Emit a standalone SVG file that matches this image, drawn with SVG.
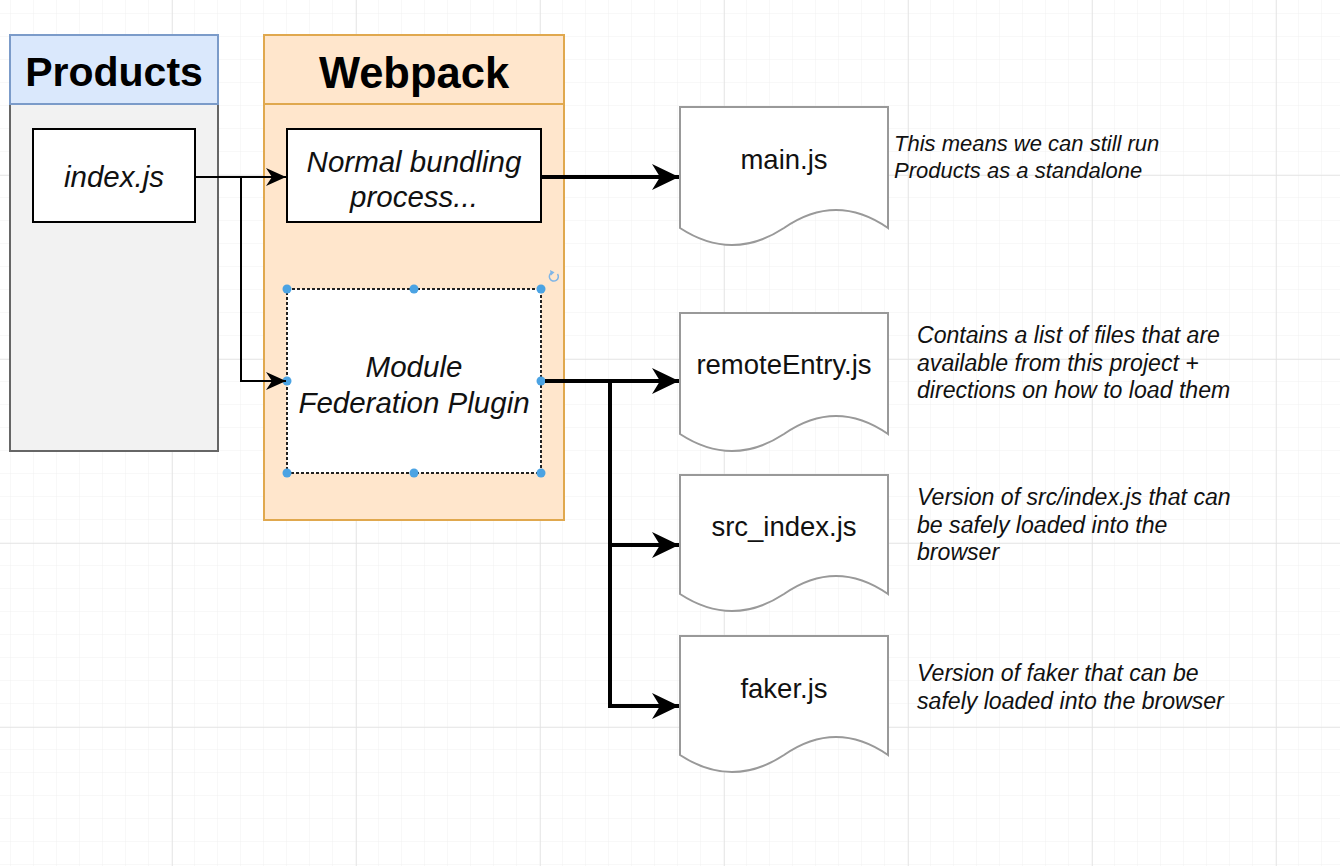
<svg xmlns="http://www.w3.org/2000/svg" width="1340" height="866" viewBox="0 0 1340 866">
<defs>
<pattern id="minor" x="-12" y="-9" width="23" height="23" patternUnits="userSpaceOnUse">
<path d="M23,0 V23 M0,23 H23" fill="none" stroke="#f0f0f0" stroke-width="1"/>
</pattern>
<pattern id="major" x="-12" y="-9" width="184" height="184" patternUnits="userSpaceOnUse">
<path d="M0,0 V184 M0,0 H184" fill="none" stroke="#e3e3e3" stroke-width="1.5"/>
</pattern>
<marker id="thin" markerUnits="userSpaceOnUse" viewBox="-21 -10 23 20" refX="0" refY="0" markerWidth="23" markerHeight="20" orient="auto">
<path d="M-20,-9 L0,0 L-20,9 L-14,0 Z" fill="#000"/>
</marker>
<marker id="thick" markerUnits="userSpaceOnUse" viewBox="-28 -14 30 28" refX="0" refY="0" markerWidth="30" markerHeight="28" orient="auto">
<path d="M-27,-13 L0,0 L-27,13 L-19,0 Z" fill="#000"/>
</marker>
<style>
.title{font-family:"Liberation Sans",Arial,sans-serif;font-weight:bold;font-size:41px;fill:#000;text-anchor:middle}
.it{font-family:"Liberation Sans",Arial,sans-serif;font-style:italic;font-size:29.5px;fill:#111;text-anchor:middle}
.doc{font-family:"Liberation Sans",Arial,sans-serif;font-size:27.5px;fill:#111;text-anchor:middle}
.note{font-family:"Liberation Sans",Arial,sans-serif;font-style:italic;font-size:23.1px;fill:#111}
.docshape{fill:#fff;stroke:#999;stroke-width:2}
.box{fill:#fff;stroke:#000;stroke-width:2}
.handle{fill:#4ba3e3}
.c2{fill:none;stroke:#000;stroke-width:2}
.c4{fill:none;stroke:#000;stroke-width:4}
</style>
</defs>
<rect width="1340" height="866" fill="#fff"/>
<rect width="1340" height="866" fill="url(#minor)"/>
<rect width="1340" height="866" fill="url(#major)"/>

<g id="products">
<rect x="10" y="35" width="208" height="416" fill="#f2f2f2" stroke="#666" stroke-width="2"/>
<rect x="10" y="35" width="208" height="69" fill="#dae8fc" stroke="#7b9bc9" stroke-width="2"/>
<text class="title" x="114" y="86">Products</text>
</g>

<g id="webpack">
<rect x="264" y="35" width="300" height="485" fill="#ffe6cc" stroke="#e0a84e" stroke-width="2"/>
<line x1="264" y1="104" x2="564" y2="104" stroke="#e0a84e" stroke-width="2"/>
<text class="title" x="414" y="88" style="font-size:43.5px">Webpack</text>
</g>

<g id="indexjs">
<rect class="box" x="33" y="129" width="162" height="93"/>
<text class="it" x="114" y="187">index.js</text>
</g>

<g id="normal-bundling">
<rect class="box" x="287" y="129" width="254" height="93"/>
<text class="it" x="414" y="172">Normal bundling</text>
<text class="it" x="414" y="207">process...</text>
</g>

<g id="module-federation">
<rect x="287" y="289" width="254" height="184" fill="#fff" stroke="#222" stroke-width="2" stroke-dasharray="3,2"/>
<text class="it" x="414" y="377">Module</text>
<text class="it" x="414" y="413">Federation Plugin</text>
<circle class="handle" cx="287" cy="289" r="4.5"/>
<circle class="handle" cx="414" cy="289" r="4.5"/>
<circle class="handle" cx="541" cy="289" r="4.5"/>
<circle class="handle" cx="287" cy="381" r="4.5"/>
<circle class="handle" cx="541" cy="381" r="4.5"/>
<circle class="handle" cx="287" cy="473" r="4.5"/>
<circle class="handle" cx="414" cy="473" r="4.5"/>
<circle class="handle" cx="541" cy="473" r="4.5"/>
<path d="M557.5,274 A4.5,4.5 0 1 1 552,272.5" fill="none" stroke="#7fb5e6" stroke-width="1.5"/>
<path d="M550,270 L554.5,272.3 L551,275.5 Z" fill="#7fb5e6"/>
</g>

<g id="mainjs">
<path class="docshape" d="M680,107 H888 V228 Q836,192 784,228 Q732,262 680,228 Z"/>
<text class="doc" x="784" y="169">main.js</text>
</g>
<g id="remoteentry">
<path class="docshape" d="M680,313 H888 V434 Q836,398 784,434 Q732,468 680,434 Z"/>
<text class="doc" x="784" y="374">remoteEntry.js</text>
</g>
<g id="srcindex">
<path class="docshape" d="M680,475 H888 V594 Q836,558 784,594 Q732,628 680,594 Z"/>
<text class="doc" x="784" y="536">src_index.js</text>
</g>
<g id="fakerjs">
<path class="docshape" d="M680,636 H888 V755 Q836,719 784,755 Q732,789 680,755 Z"/>
<text class="doc" x="784" y="698">faker.js</text>
</g>

<g id="notes">
<text class="note" x="894" y="151" style="font-size:22px">This means we can still run</text>
<text class="note" x="894" y="178" style="font-size:22px">Products as a standalone</text>
<text class="note" x="917" y="343">Contains a list of files that are</text>
<text class="note" x="917" y="371">available from this project +</text>
<text class="note" x="917" y="398">directions on how to load them</text>
<text class="note" x="917" y="505">Version of src/index.js that can</text>
<text class="note" x="917" y="533">be safely loaded into the</text>
<text class="note" x="917" y="560">browser</text>
<text class="note" x="917" y="681">Version of faker that can be</text>
<text class="note" x="917" y="709">safely loaded into the browser</text>
</g>

<g id="connectors">
<path class="c2" d="M195,177 H286" marker-end="url(#thin)"/>
<path class="c2" d="M241,177 V381 H286" marker-end="url(#thin)"/>
<path class="c4" d="M541,177 H679" marker-end="url(#thick)"/>
<path class="c4" d="M545,381 H679" marker-end="url(#thick)"/>
<path class="c4" d="M610,381 V545 H679" marker-end="url(#thick)"/>
<path class="c4" d="M610,543 V706 H679" marker-end="url(#thick)"/>
</g>
</svg>
